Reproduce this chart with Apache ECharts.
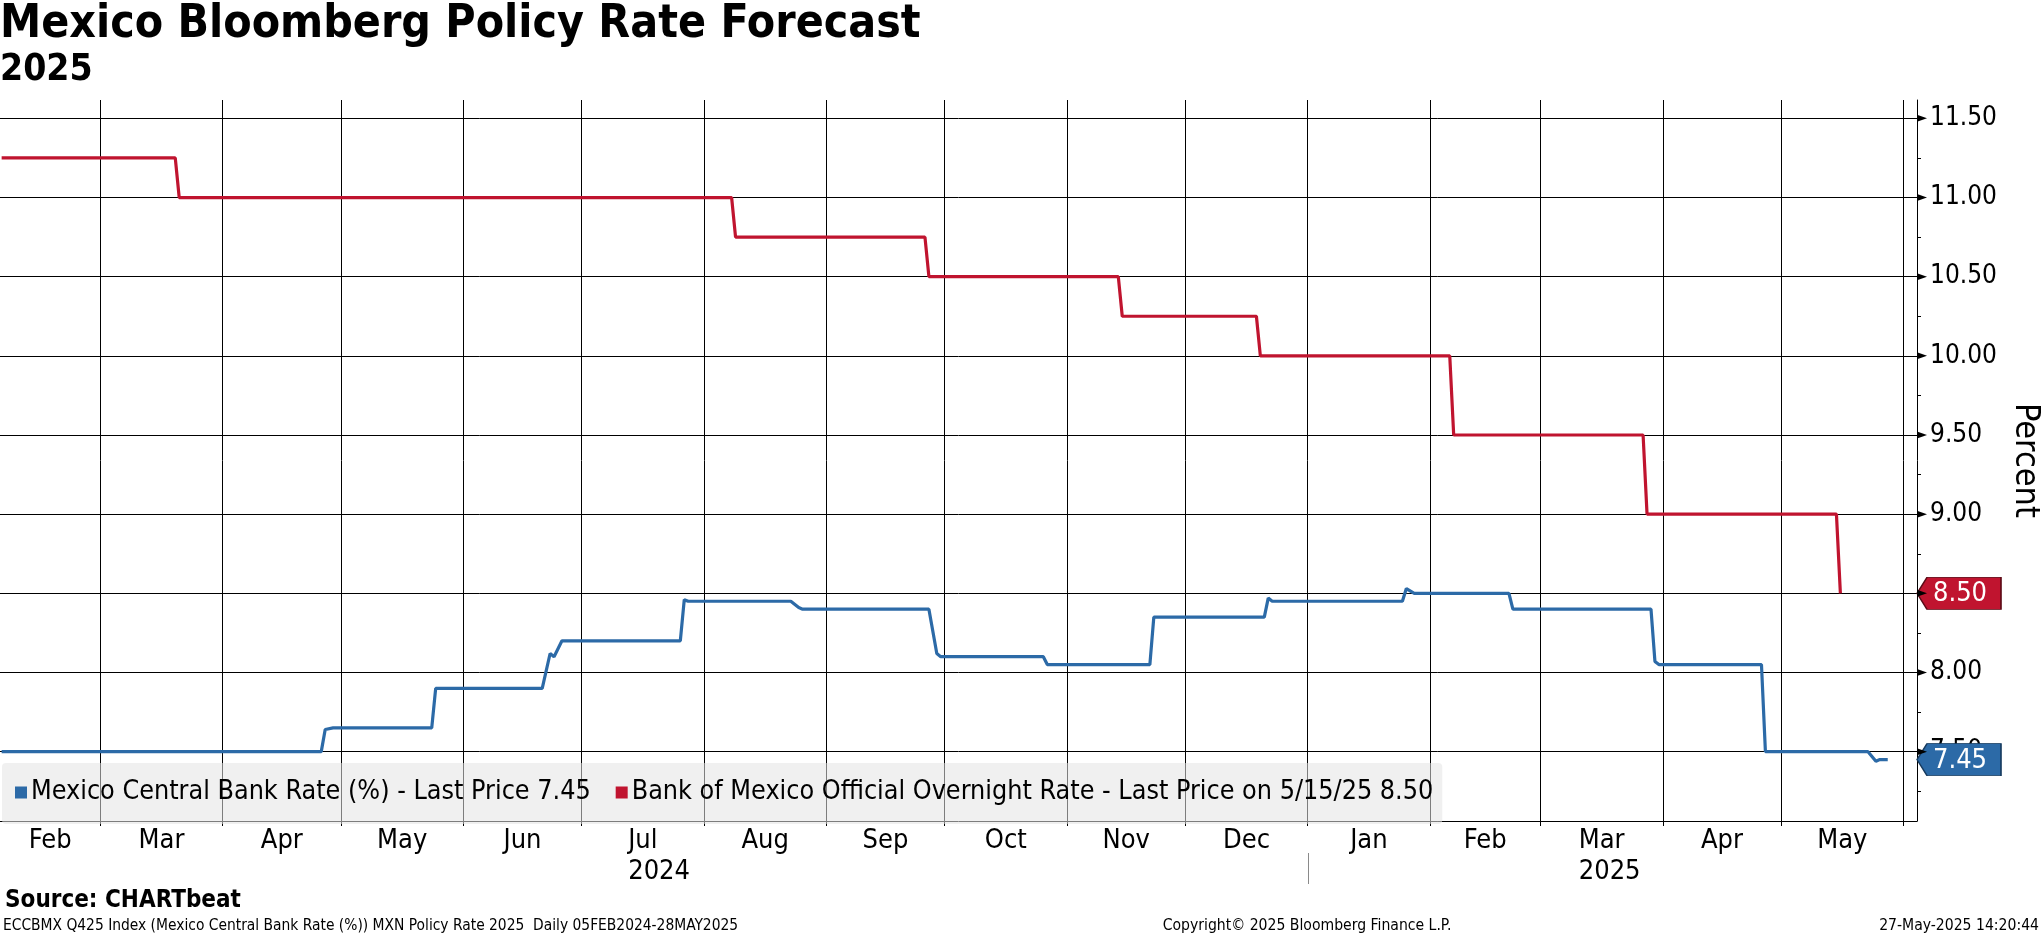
<!DOCTYPE html>
<html>
<head>
<meta charset="utf-8">
<script src="https://cdn.jsdelivr.net/npm/echarts@6/dist/echarts.min.js"></script>
<style>
html, body { margin: 0; padding: 0; background: #ffffff; }
#chart { width: 2041px; height: 936px; }
</style>
</head>
<body>
<div id="chart"></div>
<script>
// ---------------- data ----------------
const blueDates = [
  '2024-02-05', '2024-04-26', '2024-04-27', '2024-04-29', '2024-05-24', '2024-05-25',
  '2024-06-21', '2024-06-23', '2024-06-24', '2024-06-26', '2024-07-26', '2024-07-27',
  '2024-07-28', '2024-08-23', '2024-08-25', '2024-08-26', '2024-09-27', '2024-09-29',
  '2024-09-30', '2024-10-26', '2024-10-27', '2024-11-22', '2024-11-23', '2024-12-21',
  '2024-12-22', '2024-12-23', '2025-01-25', '2025-01-26', '2025-01-28', '2025-02-21',
  '2025-02-22', '2025-03-29', '2025-03-30', '2025-03-31', '2025-04-26', '2025-04-27',
  '2025-05-23', '2025-05-25', '2025-05-26', '2025-05-28'
];
const blueValues = [
  7.50, 7.50, 7.64, 7.65, 7.65, 7.90,
  7.90, 8.12, 8.10, 8.20, 8.20, 8.46,
  8.45, 8.45, 8.41, 8.40, 8.40, 8.12,
  8.10, 8.10, 8.05, 8.05, 8.35, 8.35,
  8.47, 8.45, 8.45, 8.53, 8.50, 8.50,
  8.40, 8.40, 8.07, 8.05, 8.05, 7.50,
  7.50, 7.44, 7.45, 7.45
];
const redDates = [
  '2024-02-05', '2024-03-20', '2024-03-21', '2024-08-08', '2024-08-09', '2024-09-26',
  '2024-09-27', '2024-11-14', '2024-11-15', '2024-12-19', '2024-12-20', '2025-02-06',
  '2025-02-07', '2025-03-27', '2025-03-28', '2025-05-15', '2025-05-16'
];
const redValues = [
  11.25, 11.25, 11.00, 11.00, 10.75, 10.75,
  10.50, 10.50, 10.25, 10.25, 10.00, 10.00,
  9.50, 9.50, 9.00, 9.00, 8.50
];
const monthNames = ['Feb', 'Mar', 'Apr', 'May', 'Jun', 'Jul', 'Aug', 'Sep', 'Oct', 'Nov', 'Dec',
                    'Jan', 'Feb', 'Mar', 'Apr', 'May'];
const monthStarts = ['2024-03-01', '2024-04-01', '2024-05-01', '2024-06-01', '2024-07-01', '2024-08-01',
                     '2024-09-01', '2024-10-01', '2024-11-01', '2024-12-01', '2025-01-01', '2025-02-01',
                     '2025-03-01', '2025-04-01', '2025-05-01', '2025-06-01'];
const yearLabels = ['2024', '2025'];
const yearLabelMonthIndex = [5, 13];
const yearBoundary = '2025-01-01';
const yMajorTicks = [7.5, 8.0, 8.5, 9.0, 9.5, 10.0, 10.5, 11.0, 11.5];
const yMinorTicks = [7.25, 7.75, 8.25, 8.75, 9.25, 9.75, 10.25, 10.75, 11.25];
const xMinDate = '2024-02-04T14:00:00Z';
const xMaxDate = '2025-06-04T10:00:00Z';
const yMin = 7.062;
const yMax = 11.616;
const redLastDateText = '5/15/25';

// ---------------- helpers ----------------
const FONT = "'DejaVu Sans Condensed', 'DejaVu Sans', sans-serif";
const ts = d => Date.parse(d.length === 10 ? d + 'T00:00:00Z' : d);
const xMin = ts(xMinDate), xMax = ts(xMaxDate);
const tickTs = monthStarts.map(ts);
const labelTs = monthNames.map((m, i) => {
  const s = i === 0 ? xMin : tickTs[i - 1];
  const e = Math.min(tickTs[i], xMax);
  return (s + e) / 2;
});
const blueData = blueDates.map((d, i) => [ts(d), blueValues[i]]);
const redData = redDates.map((d, i) => [ts(d), redValues[i]]);
const blueLast = blueValues[blueValues.length - 1];
const redLast = redValues[redValues.length - 1];

const BLUE = '#2c6aa7';
const RED = '#c0142f';

const chart = echarts.init(document.getElementById('chart'), null, { renderer: 'canvas' });

const option = {
  backgroundColor: '#ffffff',
  animation: false,
  title: {
    text: 'Mexico Bloomberg Policy Rate Forecast',
    subtext: '2025',
    left: 0,
    top: 2,
    padding: 0,
    itemGap: 4,
    textStyle: { fontFamily: FONT, fontWeight: 'bold', fontSize: 46, color: '#000' },
    subtextStyle: { fontFamily: FONT, fontWeight: 'bold', fontSize: 37, color: '#000' }
  },
  legend: {
    left: 2,
    top: 763,
    orient: 'horizontal',
    padding: [16, 9, 18, 13],
    itemGap: 25,
    itemWidth: 12,
    itemHeight: 12,
    icon: 'rect',
    backgroundColor: 'rgba(228,228,228,0.55)',
    borderRadius: 4,
    selectedMode: false,
    textStyle: { fontFamily: FONT, fontSize: 26.7, color: '#000', padding: [0, 0, 0, -1] },
    data: [
      { name: 'Mexico Central Bank Rate (%) - Last Price ' + blueLast.toFixed(2), itemStyle: { color: BLUE } },
      { name: 'Bank of Mexico Official Overnight Rate - Last Price on ' + redLastDateText + ' ' + redLast.toFixed(2), itemStyle: { color: RED } }
    ]
  },
  grid: {
    left: 0, right: 124, top: 100, bottom: 115,
    containLabel: false,
    outerBoundsMode: 'none'
  },
  xAxis: {
    type: 'value',
    min: xMin,
    max: xMax,
    axisLine: { show: true, lineStyle: { color: '#000', width: 1 } },
    axisTick: { show: true, length: 5, inside: false, customValues: tickTs, lineStyle: { color: '#000', width: 1 } },
    axisLabel: {
      show: true,
      customValues: labelTs,
      margin: 6,
      fontFamily: FONT,
      fontSize: 27,
      color: '#000',
      formatter: function (v) {
        let best = 0, bd = Infinity;
        labelTs.forEach((t, i) => { const d = Math.abs(t - v); if (d < bd) { bd = d; best = i; } });
        return monthNames[best];
      }
    },
    splitLine: { show: true, lineStyle: { color: '#000', width: 1 } },
    minorTick: { show: false },
    minorSplitLine: { show: false }
  },
  yAxis: [
    {
      type: 'value',
      position: 'right',
      min: yMin,
      max: yMax,
      axisLine: { show: true, lineStyle: { color: '#000', width: 1 } },
      axisTick: { show: true, length: 4, inside: false, customValues: yMinorTicks, lineStyle: { color: '#000', width: 1 } },
      axisLabel: { show: false },
      splitLine: { show: false }
    },
    {
      type: 'value',
      position: 'right',
      min: yMin,
      max: yMax,
      name: 'Percent',
      nameLocation: 'middle',
      nameRotate: -90,
      nameGap: 86,
      nameTextStyle: { fontFamily: FONT, fontSize: 34, color: '#000' },
      axisLine: { show: false },
      axisTick: { show: false, customValues: yMajorTicks },
      axisLabel: {
        show: true,
        customValues: yMajorTicks,
        margin: 13,
        fontFamily: FONT,
        fontSize: 26,
        color: '#000',
        formatter: v => v.toFixed(2)
      },
      splitLine: { show: true, lineStyle: { color: '#000', width: 1 } }
    }
  ],
  series: [
    {
      name: 'Mexico Central Bank Rate (%) - Last Price ' + blueLast.toFixed(2),
      type: 'line',
      yAxisIndex: 1,
      data: blueData,
      showSymbol: false,
      symbol: 'none',
      lineStyle: { color: BLUE, width: 3.2 },
      itemStyle: { color: BLUE },
      z: 3,
      markPoint: {
        silent: true,
        symbol: 'path://M0,16 L10,0 L84,0 L84,32 L10,32 Z',
        symbolSize: [84, 32],
        symbolOffset: [42, 0],
        symbolKeepAspect: false,
        itemStyle: { color: BLUE, borderColor: '#163a5e', borderWidth: 1 },
        label: {
          show: true, position: 'inside', offset: [1, 1], color: '#fff',
          fontFamily: FONT, fontSize: 27, formatter: p => p.value.toFixed(2)
        },
        data: [{ coord: [xMax, blueLast], value: blueLast }]
      }
    },
    {
      name: 'Bank of Mexico Official Overnight Rate - Last Price on ' + redLastDateText + ' ' + redLast.toFixed(2),
      type: 'line',
      yAxisIndex: 1,
      data: redData,
      showSymbol: false,
      symbol: 'none',
      lineStyle: { color: RED, width: 3.2 },
      itemStyle: { color: RED },
      z: 3,
      markPoint: {
        silent: true,
        symbol: 'path://M0,16 L10,0 L84,0 L84,32 L10,32 Z',
        symbolSize: [84, 32],
        symbolOffset: [42, 0],
        symbolKeepAspect: false,
        itemStyle: { color: RED, borderColor: '#5a0a16', borderWidth: 1 },
        label: {
          show: true, position: 'inside', offset: [1, 1], color: '#fff',
          fontFamily: FONT, fontSize: 27, formatter: p => p.value.toFixed(2)
        },
        data: [{ coord: [xMax, redLast], value: redLast }]
      }
    }
  ]
};

chart.setOption(option);

// ---------------- decorations derived from the axes ----------------
function decorate() {
  const graphics = [];
  const axisX = chart.convertToPixel({ xAxisIndex: 0 }, xMax);
  // triangle ticks at major y values
  yMajorTicks.forEach(v => {
    const y = chart.convertToPixel({ yAxisIndex: 1 }, v);
    graphics.push({
      type: 'polygon', silent: true, z: 5,
      shape: { points: [[axisX, y - 3.5], [axisX + 10, y], [axisX, y + 3.5]] },
      style: { fill: '#000' }
    });
  });
  // year labels, left aligned with their month labels
  const ctx = document.createElement('canvas').getContext('2d');
  ctx.font = '27px ' + FONT;
  yearLabels.forEach((yr, k) => {
    const idx = yearLabelMonthIndex[k];
    const cx = chart.convertToPixel({ xAxisIndex: 0 }, labelTs[idx]);
    const w = ctx.measureText(monthNames[idx]).width;
    graphics.push({
      type: 'text', silent: true,
      left: cx - w / 2, top: 858,
      style: { text: yr, fontFamily: FONT, fontSize: 27, fill: '#000' }
    });
  });
  // year separator
  const sx = Math.round(chart.convertToPixel({ xAxisIndex: 0 }, ts(yearBoundary))) + 0.5;
  graphics.push({
    type: 'line', silent: true,
    shape: { x1: sx, y1: 853, x2: sx, y2: 884 },
    style: { stroke: '#8a8a8a', lineWidth: 1 }
  });
  // footer
  graphics.push({
    type: 'text', silent: true, left: 5, top: 889,
    style: { text: 'Source: CHARTbeat', fontFamily: FONT, fontWeight: 'bold', fontSize: 24, fill: '#000' }
  });
  graphics.push({
    type: 'text', silent: true, left: 3, top: 918,
    style: { text: 'ECCBMX Q425 Index (Mexico Central Bank Rate (%)) MXN Policy Rate 2025  Daily 05FEB2024-28MAY2025', fontFamily: FONT, fontSize: 15.4, fill: '#000' }
  });
  graphics.push({
    type: 'text', silent: true, x: 1307, y: 926,
    style: { text: 'Copyright\u00A9 2025 Bloomberg Finance L.P.', fontFamily: FONT, fontSize: 15.6, fill: '#000', align: 'center', verticalAlign: 'middle' }
  });
  graphics.push({
    type: 'text', silent: true, x: 2039, y: 926,
    style: { text: '27-May-2025 14:20:44', fontFamily: FONT, fontSize: 15.6, fill: '#000', align: 'right', verticalAlign: 'middle' }
  });
  chart.setOption({ graphic: { elements: graphics } });
}
decorate();
</script>
</body>
</html>
